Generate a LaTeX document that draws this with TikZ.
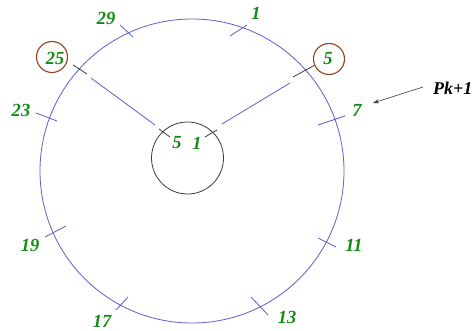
\documentclass[tikz,border=0pt]{standalone}
\usepackage{fontspec}
\setmainfont{Liberation Serif}
\usetikzlibrary{arrows.meta}
\definecolor{numgreen}{RGB}{20,140,20}
\definecolor{ringblue}{RGB}{95,95,205}
\definecolor{markbrown}{RGB}{150,65,25}
\definecolor{tickgray}{RGB}{60,60,60}
\begin{document}
\begin{tikzpicture}[x=1pt,y=-1pt,
  num/.style={text=numgreen,font=\fontsize{18.5}{20}\selectfont\bfseries\itshape,inner sep=0pt},
  bluetick/.style={draw=ringblue,line width=0.8pt},
  blacktick/.style={draw=tickgray,line width=0.8pt},
  brownring/.style={circle,draw=markbrown,line width=1.1pt,inner sep=0pt,minimum size=31pt}]
\useasboundingbox (0,0) rectangle (473,331);
\fill[white] (0,0) rectangle (473,331);
% circles
\node[circle,draw=ringblue,line width=0.8pt,inner sep=0pt,minimum size=304pt] (outer) at (192,171) {};
\node[circle,draw=tickgray,line width=0.8pt,inner sep=0pt,minimum size=72pt] (inner) at (187.5,158) {};
% blue ticks on the outer circle
\draw[bluetick] (120,25) -- (133,37);
\draw[bluetick] (230,36) -- (247,25);
\draw[bluetick] (318,125) -- (345,116);
\draw[bluetick] (318,238) -- (336,247);
\draw[bluetick] (251,297) -- (268,315);
\draw[bluetick] (116,310) -- (128,297);
\draw[bluetick] (45,237) -- (66,226);
\draw[bluetick] (36,113) -- (57,121);
% black ticks and spokes
\draw[blacktick] (73,65) -- (87,74);
\draw[blacktick] (293,77) -- (315,65);
\draw[bluetick] (91,78) -- (155,125);
\draw[bluetick] (290,83) -- (222,124);
\draw[blacktick] (159,129) -- (170,137);
\draw[blacktick] (205,137) -- (217,130);
% brown rings
\node[brownring] (ring25) at (52,57) {};
\node[brownring] (ring5) at (329,59) {};
% labels
\node[num] (l29) at (106,18) {29};
\node[num] (l1) at (256,13) {1};
\node[num] (l5) at (328,59) {5};
\node[num] (l7) at (357,110) {7};
\node[num] (l11) at (354,245) {11};
\node[num] (l13) at (287,317) {13};
\node[num] (l17) at (102,321) {17};
\node[num] (l19) at (30,245) {19};
\node[num] (l23) at (21,110) {23};
\node[num] (l25) at (55,58) {25};
\node[num] (c5) at (177,143) {5};
\node[num] (c1) at (197,143) {1};
\node[font=\fontsize{18}{20}\selectfont\bfseries\itshape,inner sep=0pt,anchor=base west] (pk) at (433,95) {Pk+1};
\coordinate (arrowfrom) at (423,87);
\coordinate (arrowto) at (373,103);
\draw[draw=tickgray,line width=0.6pt,-{Stealth[length=6pt,width=4pt]}] (arrowfrom) -- (arrowto);
\end{tikzpicture}
\end{document}
